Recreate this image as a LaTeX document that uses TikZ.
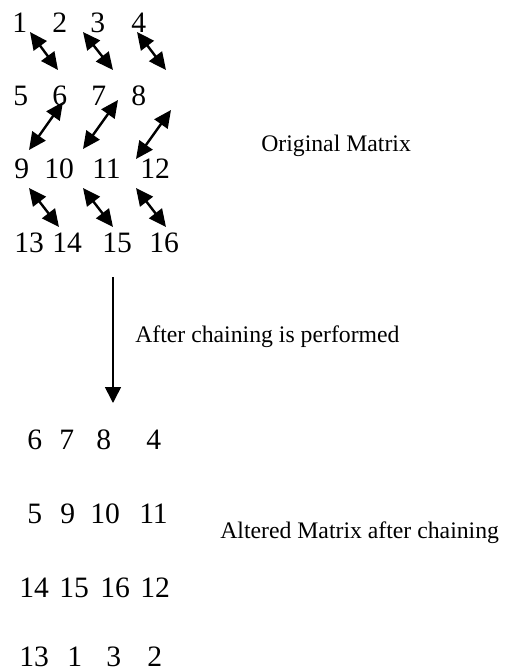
\documentclass[tikz,border=0pt]{standalone}
\usepackage{fontspec}
\setmainfont{Liberation Serif}
\usetikzlibrary{arrows.meta}
\begin{document}
\begin{tikzpicture}[x=0.75pt,y=-0.75pt,
  num/.style={inner sep=0pt, anchor=base west, font=\fontsize{22.2}{26}\selectfont},
  lbl/.style={inner sep=0pt, anchor=base west, font=\fontsize{17.8}{21}\selectfont},
  dbl/.style={line width=1.8pt, {Triangle[length=13pt,width=12pt]}-{Triangle[length=13pt,width=12pt]}},
  down/.style={line width=1.2pt, -{Triangle[length=12pt,width=12pt]}}]
\useasboundingbox (0,0) rectangle (508,672);
% original matrix
\node[num] (a1)  at (12,32)  {1};
\node[num] (a2)  at (52,32)  {2};
\node[num] (a3)  at (90,32)  {3};
\node[num] (a4)  at (131,32) {4};
\node[num] (a5)  at (13,105) {5};
\node[num] (a6)  at (52,105) {6};
\node[num] (a7)  at (91,105) {7};
\node[num] (a8)  at (131,105) {8};
\node[num] (a9)  at (14,178) {9};
\node[num] (a10) at (44,178) {10};
\node[num] (a11) at (92,178) {11};
\node[num] (a12) at (140,178) {12};
\node[num] (a13) at (14,252) {13};
\node[num] (a14) at (52,252) {14};
\node[num] (a15) at (102,252) {15};
\node[num] (a16) at (149,252) {16};
% arrows of the original matrix
\coordinate (p1s) at (30,32);  \coordinate (p1e) at (58,70);
\coordinate (p2s) at (83,32);  \coordinate (p2e) at (113,70);
\coordinate (p3s) at (137,32); \coordinate (p3e) at (166,70);
\coordinate (q1s) at (63,102);  \coordinate (q1e) at (29,150);
\coordinate (q2s) at (118,100); \coordinate (q2e) at (83,149);
\coordinate (q3s) at (171,110); \coordinate (q3e) at (136,159);
\coordinate (r1s) at (29,188);  \coordinate (r1e) at (59,227);
\coordinate (r2s) at (83,188);  \coordinate (r2e) at (113,227);
\coordinate (r3s) at (136,188); \coordinate (r3e) at (166,227);
\draw[dbl] (p1s) -- (p1e);
\draw[dbl] (p2s) -- (p2e);
\draw[dbl] (p3s) -- (p3e);
\draw[dbl] (q1s) -- (q1e);
\draw[dbl] (q2s) -- (q2e);
\draw[dbl] (q3s) -- (q3e);
\draw[dbl] (r1s) -- (r1e);
\draw[dbl] (r2s) -- (r2e);
\draw[dbl] (r3s) -- (r3e);
\node[lbl] (orig) at (261,151) {Original Matrix};
% chaining arrow
\coordinate (ds) at (113,277);
\coordinate (de) at (113,403);
\draw[down] (ds) -- (de);
\node[lbl] (after) at (135,342) {After chaining is performed};
% altered matrix
\node[num] (b1)  at (27,449) {6};
\node[num] (b2)  at (59,449) {7};
\node[num] (b3)  at (96,449) {8};
\node[num] (b4)  at (146,449) {4};
\node[num] (b5)  at (27,523) {5};
\node[num] (b6)  at (60,523) {9};
\node[num] (b7)  at (90,523) {10};
\node[num] (b8)  at (139,523) {11};
\node[num] (b9)  at (19,597) {14};
\node[num] (b10) at (59,597) {15};
\node[num] (b11) at (100,597) {16};
\node[num] (b12) at (140,597) {12};
\node[num] (b13) at (19,666) {13};
\node[num] (b14) at (67,666) {1};
\node[num] (b15) at (106,666) {3};
\node[num] (b16) at (147,666) {2};
\node[lbl] (alt) at (220,538) {Altered Matrix after chaining};
\end{tikzpicture}
\end{document}
